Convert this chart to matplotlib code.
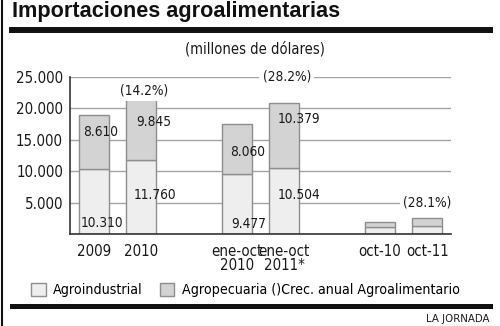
import matplotlib
matplotlib.use("Agg")
import matplotlib.pyplot as plt
from matplotlib.lines import Line2D
from matplotlib.patches import Patch

# ---------------------------------------------------------------------------
# Data (millones de dólares)
# ---------------------------------------------------------------------------
periods = ["2009", "2010", "ene-oct\n2010", "ene-oct\n2011*", "oct-10", "oct-11"]
agroindustrial = [10310, 11760, 9477, 10504, 1080, 1250]
agropecuaria = [8610, 9845, 8060, 10379, 900, 1280]
growth = {1: 14.2, 3: 28.2, 5: 28.1}      # bar index -> crec. anual (%)
labelled = [0, 1, 2, 3]                   # bars that carry value labels

positions = [0, 1, 3, 4, 6, 7]

# condensed face, close to the newspaper's Helvetica Condensed
plt.rcParams["font.family"] = ["DejaVu Sans"]
plt.rcParams["font.stretch"] = "condensed"

C_IND = "#eeeeee"
C_PEC = "#d3d3d3"
C_EDGE = "#8e8e8e"
C_TXT = "#1a1a1a"


def fmt(v):
    return f"{int(v):,}".replace(",", ".")


fig = plt.figure(figsize=(5, 3.26), dpi=100)
W, H = 500, 326

ax = fig.add_axes([70 / W, 1 - 234 / H, 381 / W, 157 / H])

ax.bar(positions, agroindustrial, width=0.63, color=C_IND,
       edgecolor=C_EDGE, linewidth=1, zorder=2)
ax.bar(positions, agropecuaria, width=0.63, bottom=agroindustrial,
       color=C_PEC, edgecolor=C_EDGE, linewidth=1, zorder=2)

# value labels (placement follows the original layout)
ind_y = [1750, 6200, 1650, 6200]
pec_y = [16300, 17900, 13100, 18300]
dx = [0.17, 0.29, 0.25, 0.32]
for k, i in enumerate(labelled):
    ax.text(positions[i] + dx[k], ind_y[k], fmt(agroindustrial[i]),
            ha="center", va="center", fontsize=9.8, color=C_TXT, zorder=3)
    ax.text(positions[i] + dx[k] - 0.02, pec_y[k], fmt(agropecuaria[i]),
            ha="center", va="center", fontsize=9.8, color=C_TXT, zorder=3)

# growth labels
growth_y = {1: 22900, 3: 25000, 5: 4950}
growth_dx = {1: 0.05, 3: 0.05, 5: 0.01}
for i, g in growth.items():
    ax.text(positions[i] + growth_dx[i], growth_y[i], f"({g}%)",
            ha="center", va="center", fontsize=9.8, color=C_TXT, zorder=3,
            clip_on=False,
            bbox=dict(boxstyle="square,pad=0.25", fc="white", ec="none"))

ax.set_xlim(-0.5, 7.5)
ax.set_ylim(0, 25000)
ax.set_yticks([5000, 10000, 15000, 20000, 25000])
ax.set_yticklabels([fmt(v) for v in ax.get_yticks()])
ax.set_xticks(positions)
ax.set_xticklabels(periods, linespacing=0.95)
ax.tick_params(axis="both", length=0, labelsize=10.8, colors=C_TXT)
ax.tick_params(axis="y", pad=5)
ax.tick_params(axis="x", pad=7)
ax.yaxis.grid(True, color="#a4a4a4", linewidth=1)
ax.set_axisbelow(True)
for s in ("top", "right"):
    ax.spines[s].set_visible(False)
for s in ("left", "bottom"):
    ax.spines[s].set_color("#333333")
    ax.spines[s].set_linewidth(1.2)

# legend
handles = [Patch(facecolor=C_IND, edgecolor=C_EDGE),
           Patch(facecolor=C_PEC, edgecolor=C_EDGE)]
fig.legend(handles, ["Agroindustrial", "Agropecuaria ()Crec. anual Agroalimentario"],
           loc="center left", bbox_to_anchor=(31 / W, 1 - 290 / H), ncol=2,
           frameon=False, fontsize=10.2, handlelength=1.05, handleheight=1.05,
           handletextpad=0.5, columnspacing=1.2, borderpad=0, borderaxespad=0)

# title, subtitle, rules, credit
fig.text(12 / W, 1 - 17 / H, "Importaciones agroalimentarias",
         fontsize=15.6, fontweight="bold", family=["Liberation Sans", "DejaVu Sans"],
         fontstretch="normal", color="#111111", va="baseline", ha="left")
fig.text(255 / W, 1 - 49 / H, "(millones de dólares)", fontsize=10.5,
         color=C_TXT, ha="center", va="center")
fig.add_artist(Line2D([12 / W, 490 / W], [1 - 29.5 / H] * 2, color="#111111",
                      linewidth=4.3, transform=fig.transFigure))
fig.add_artist(Line2D([12 / W, 490 / W], [1 - 305.5 / H] * 2, color="#111111",
                      linewidth=3.6, transform=fig.transFigure))
fig.add_artist(Line2D([1.5 / W, 1.5 / W], [0, 1], color="#111111",
                      linewidth=1.5, transform=fig.transFigure))
fig.text(489 / W, 1 - 319.5 / H, "LA JORNADA", fontsize=8.2, color=C_TXT,
         ha="right", va="center")

fig.savefig("out.png", dpi=100)
